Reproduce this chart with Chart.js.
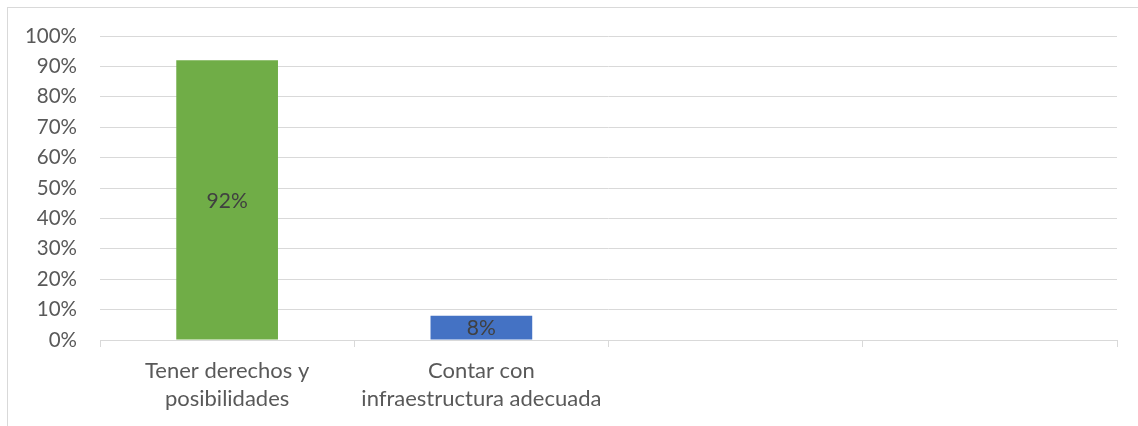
<!DOCTYPE html>
<html>
<head>
<meta charset="utf-8">
<script src="https://cdn.jsdelivr.net/npm/chart.js@4.4.1/dist/chart.umd.min.js"></script>
<style>
  html, body { margin: 0; padding: 0; background: #fff; }
  #wrap { position: relative; width: 1138px; height: 426px; overflow: hidden; }
  #frame { position: absolute; left: 7px; top: 7px; width: 1200px; height: 500px; border: 1px solid #d9d9d9; box-sizing: border-box; }
  canvas { position: absolute; left: 0; top: 0; }
</style>
</head>
<body>
<div id="wrap">
  <div id="frame"></div>
  <canvas id="chart" width="1138" height="426"></canvas>
</div>
<script>
// chart data
const categories = [['Tener derechos y', 'posibilidades'], ['Contar con', 'infraestructura adecuada'], '', ''];
const values = [92, 8, null, null];
const barColors = ['#70ad47', '#4472c4', '#70ad47', '#4472c4'];

const FONT = "Lato, 'Open Sans', sans-serif";

// draws the % value in the middle of each bar
const centerLabels = {
    id: 'centerLabels',
    afterDatasetsDraw(chart) {
        const ctx = chart.ctx;
        const meta = chart.getDatasetMeta(0);
        ctx.save();
        ctx.font = '21px ' + FONT;
        ctx.fillStyle = '#404040';
        ctx.textAlign = 'center';
        ctx.textBaseline = 'middle';
        meta.data.forEach((bar, i) => {
            if (values[i] == null) return;
            const y = (bar.y + bar.base) / 2;
            ctx.fillText(values[i] + '%', bar.x, y + 1);
        });
        ctx.restore();
    }
};

new Chart(document.getElementById('chart'), {
    type: 'bar',
    data: {
        labels: categories,
        datasets: [{
            data: values,
            backgroundColor: barColors,
            barPercentage: 0.8,
            categoryPercentage: 0.5
        }]
    },
    plugins: [centerLabels],
    options: {
        responsive: false,
        animation: false,
        layout: { padding: { top: 36, right: 21, bottom: 0, left: 0 } },
        plugins: {
            legend: { display: false },
            tooltip: { enabled: false }
        },
        scales: {
            x: {
                offset: true,
                grid: {
                    offset: true,
                    drawOnChartArea: false,
                    color: '#d9d9d9',
                    tickLength: 7
                },
                border: { color: '#d9d9d9' },
                ticks: {
                    color: '#595959',
                    padding: 10,
                    font: { family: FONT, size: 22, lineHeight: 1.27 },
                    maxRotation: 0
                },
                afterFit: (axis) => { axis.height = 86; }
            },
            y: {
                min: 0,
                max: 100,
                ticks: {
                    stepSize: 10,
                    color: '#595959',
                    padding: 23,
                    font: { family: FONT, size: 20.5 },
                    callback: v => v + '%'
                },
                grid: { color: '#d9d9d9', drawTicks: false },
                border: { display: false },
                afterFit: (axis) => { axis.width = 100; }
            }
        }
    }
});
</script>
</body>
</html>
